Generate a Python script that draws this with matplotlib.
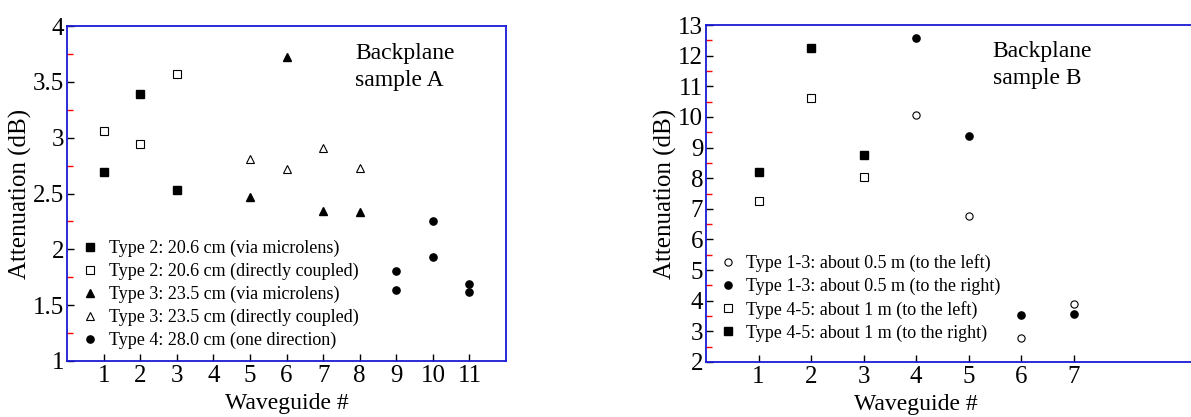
import numpy as np
import matplotlib
matplotlib.use('Agg')
import matplotlib.pyplot as plt
from matplotlib.ticker import MultipleLocator

plt.rcParams['font.family'] = ['Liberation Serif', 'DejaVu Serif']

###########################################################
# data, sample A

t2_micro_x = [1, 2, 3]
t2_micro_y = [2.69, 3.39, 2.53]
t2_direct_x = [1, 2, 3]
t2_direct_y = [3.06, 2.94, 3.57]
t3_micro_x = [5, 6, 7, 8]
t3_micro_y = [2.47, 3.72, 2.34, 2.33]
t3_direct_x = [5, 6, 7, 8]
t3_direct_y = [2.81, 2.72, 2.91, 2.73]
t4_x = [9, 9, 10, 10, 11, 11]
t4_y = [1.81, 1.64, 2.25, 1.93, 1.69, 1.62]

# data, sample B
t13_left_x = [4, 5, 6, 7]
t13_left_y = [10.07, 6.77, 2.79, 3.89]
t13_right_x = [4, 5, 6, 7]
t13_right_y = [12.58, 9.39, 3.54, 3.56]
t45_left_x = [1, 2, 3]
t45_left_y = [7.24, 10.62, 8.03]
t45_right_x = [1, 2, 3]
t45_right_y = [8.20, 12.24, 8.75]

###########################################################
# style helpers

blue = '#1a1ad6'
ms = 5.2

def style_axes(ax, minor_step):
    for side in ['left', 'bottom', 'top', 'right']:
        ax.spines[side].set_color(blue)
        ax.spines[side].set_linewidth(1.3)
    ax.tick_params(axis='both', which='major', direction='in', length=5,
                   width=1, color='black', labelsize=18, top=False, right=False)
    ax.yaxis.set_minor_locator(MultipleLocator(minor_step))
    ax.tick_params(axis='y', which='minor', direction='in', length=4,
                   width=1, color='red', right=False)
    ax.tick_params(axis='x', which='minor', bottom=False, top=False)
    ax.tick_params(axis='x', pad=3)
    ax.tick_params(axis='y', pad=2)

fig = plt.figure(figsize=(11.91, 4.17), dpi=100)

#############################
# sample A

ax1 = fig.add_axes([0.0563, 0.1343, 0.3686, 0.8033])
ax1.plot(t2_micro_x, t2_micro_y, ls='', marker='s', ms=ms, color='black',
         label='Type 2: 20.6 cm (via microlens)')
ax1.plot(t2_direct_x, t2_direct_y, ls='', marker='s', ms=ms, mfc='white', mec='black', mew=0.8,
         label='Type 2: 20.6 cm (directly coupled)')
ax1.plot(t3_micro_x, t3_micro_y, ls='', marker='^', ms=ms, color='black',
         label='Type 3: 23.5 cm (via microlens)')
ax1.plot(t3_direct_x, t3_direct_y, ls='', marker='^', ms=ms, mfc='white', mec='black', mew=0.8,
         label='Type 3: 23.5 cm (directly coupled)')
ax1.plot(t4_x, t4_y, ls='', marker='o', ms=ms, color='black',
         label='Type 4: 28.0 cm (one direction)')

ax1.set_xlim(0, 12)
ax1.set_ylim(1, 4)
ax1.set_xticks(range(1, 12))
ax1.set_yticks([1, 1.5, 2, 2.5, 3, 3.5, 4])
ax1.set_yticklabels(['1', '1.5', '2', '2.5', '3', '3.5', '4'])
style_axes(ax1, 0.25)
ax1.set_xlabel('Waveguide #', fontsize=17)
ax1.xaxis.set_label_coords(0.5, -0.095)
ax1.set_ylabel('Attenuation (dB)', fontsize=18, labelpad=1)
ax1.text(0.656, 0.948, 'Backplane\nsample A', transform=ax1.transAxes, fontsize=17,
         linespacing=1.35, va='top')
ax1.legend(loc='lower left', bbox_to_anchor=(0.035, 0.035), frameon=False, fontsize=13,
           handlelength=0.8, handletextpad=0.65, labelspacing=0.32, borderpad=0,
           borderaxespad=0, numpoints=1)

#############################
# sample B

ax2 = fig.add_axes([0.5928, 0.1319, 0.4188, 0.8081])
ax2.plot(t13_left_x, t13_left_y, ls='', marker='o', ms=ms, mfc='white', mec='black', mew=0.8,
         label='Type 1-3: about 0.5 m (to the left)')
ax2.plot(t13_right_x, t13_right_y, ls='', marker='o', ms=ms, color='black',
         label='Type 1-3: about 0.5 m (to the right)')
ax2.plot(t45_left_x, t45_left_y, ls='', marker='s', ms=ms, mfc='white', mec='black', mew=0.8,
         label='Type 4-5: about 1 m (to the left)')
ax2.plot(t45_right_x, t45_right_y, ls='', marker='s', ms=ms, color='black',
         label='Type 4-5: about 1 m (to the right)')

ax2.set_xlim(0, 9.5)
ax2.set_ylim(2, 13)
ax2.set_xticks(range(1, 8))
ax2.set_yticks(range(2, 14))
style_axes(ax2, 0.5)
ax2.set_xlabel('Waveguide #', fontsize=17)
ax2.xaxis.set_label_coords(4 / 9.5, -0.095)
ax2.set_ylabel('Attenuation (dB)', fontsize=18, labelpad=1)
ax2.text(0.575, 0.952, 'Backplane\nsample B', transform=ax2.transAxes, fontsize=17,
         linespacing=1.35, va='top')
ax2.legend(loc='lower left', bbox_to_anchor=(0.03, 0.06), frameon=False, fontsize=13,
           handlelength=0.8, handletextpad=0.6, labelspacing=0.32, borderpad=0,
           borderaxespad=0, numpoints=1)

plt.savefig('out.png', dpi=100)
